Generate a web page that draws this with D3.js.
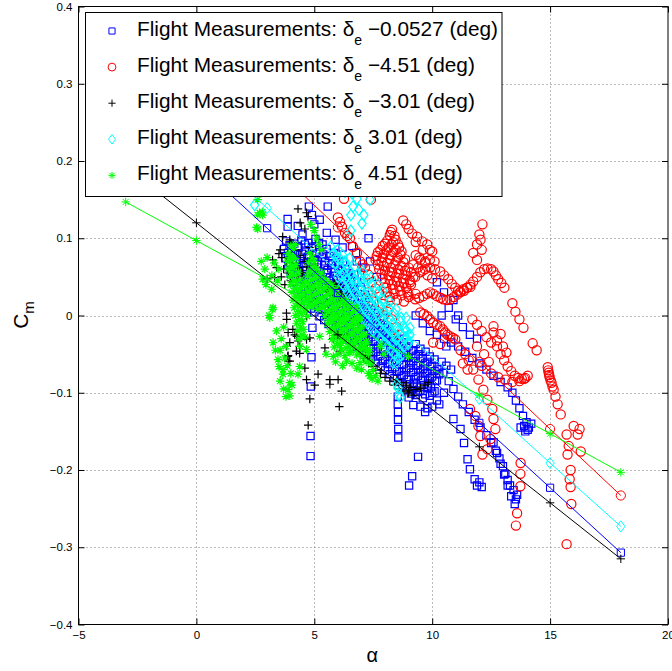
<!DOCTYPE html>
<html>
<head>
<meta charset="utf-8">
<script src="https://cdn.jsdelivr.net/npm/d3@7"></script>
<style>
  html, body { margin: 0; padding: 0; background: #fff; }
  svg { display: block; font-family: "Liberation Sans", Arial, Helvetica, sans-serif; }
</style>
</head>
<body>
<svg id="chart" width="672" height="671"></svg>
<script>
// ---------------- DATA ----------------
const xTicks = [-5, 0, 5, 10, 15, 20];
const yTicks = [-0.4, -0.3, -0.2, -0.1, 0, 0.1, 0.2, 0.3, 0.4];
const legendLabels = ["\u22120.0527", "\u22124.51", "\u22123.01", "3.01", "4.51"];

// fitted model lines (alpha, Cm)
const fitAlpha = [-3, 0, 3, 6, 9, 12, 15, 18];
const fitBlue  = [0.281, 0.197, 0.113, 0.029, -0.055, -0.139, -0.223, -0.307];
const fitRed   = [0.374, 0.287, 0.200, 0.114, 0.027, -0.060, -0.147, -0.233];
const fitBlack = [0.1925, 0.120, 0.0475, -0.025, -0.0975, -0.170, -0.2425, -0.315];
const fitCyan  = [0.304, 0.2215, 0.139, 0.0565, -0.026, -0.108, -0.191, -0.273];
const fitGreen = [0.147, 0.097, 0.047, -0.003, -0.053, -0.103, -0.153, -0.203];

// flight measurements, δe = -0.0527 deg  [alpha, Cm]
const blueDense = [
[3.8,0.096],[4.15,0.093],[4.45,0.097],[4.75,0.094],[5.05,0.099],[5.35,0.092],
[3.72,0.086],[4.02,0.083],[4.33,0.088],[4.62,0.084],[4.93,0.087],[5.22,0.082],[5.52,0.086],[5.83,0.081],
[3.78,0.074],[4.1,0.077],[4.4,0.073],[4.72,0.076],[5.0,0.072],[5.32,0.075],[5.62,0.071],[5.93,0.074],[6.22,0.07],
[3.9,0.064],[4.2,0.067],[4.52,0.063],[4.82,0.066],[5.12,0.062],[5.42,0.065],[5.72,0.061],[6.02,0.064],[6.32,0.06],
[4.0,0.054],[4.3,0.057],[4.62,0.053],[4.92,0.056],[5.22,0.052],[5.52,0.055],[5.82,0.051],[6.12,0.054],[6.42,0.05],[6.7,0.053],
[4.12,0.044],[4.42,0.047],[4.72,0.043],[5.02,0.046],[5.32,0.042],[5.62,0.045],[5.92,0.041],[6.22,0.044],[6.52,0.04],[6.82,0.043],
[4.3,0.034],[4.6,0.037],[4.9,0.033],[5.2,0.036],[5.5,0.032],[5.8,0.035],[6.1,0.031],[6.4,0.034],[6.7,0.03],[7.0,0.033],
[4.5,0.024],[4.8,0.027],[5.1,0.023],[5.4,0.026],[5.7,0.022],[6.0,0.025],[6.3,0.021],[6.6,0.024],[6.9,0.02],[7.2,0.023],
[4.72,0.014],[5.02,0.017],[5.32,0.013],[5.62,0.016],[5.92,0.012],[6.22,0.015],[6.52,0.011],[6.82,0.014],[7.12,0.01],[7.42,0.013],
[5.0,0.004],[5.3,0.007],[5.6,0.003],[5.9,0.006],[6.2,0.002],[6.5,0.005],[6.8,0.001],[7.1,0.004],[7.4,0.0],[7.7,0.003],
[5.42,-0.006],[5.72,-0.003],[6.02,-0.007],[6.32,-0.004],[6.62,-0.008],[6.92,-0.005],[7.22,-0.009],[7.52,-0.006],[7.82,-0.01],
[5.8,-0.016],[6.1,-0.013],[6.4,-0.017],[6.7,-0.014],[7.0,-0.018],[7.3,-0.015],[7.6,-0.019],[7.9,-0.016],[8.2,-0.02],
[6.22,-0.026],[6.52,-0.023],[6.82,-0.027],[7.12,-0.024],[7.42,-0.028],[7.72,-0.025],[8.02,-0.029],[8.32,-0.026],[8.62,-0.03],
[6.6,-0.036],[6.9,-0.033],[7.2,-0.037],[7.5,-0.034],[7.8,-0.038],[8.1,-0.035],[8.4,-0.039],[8.7,-0.036],[9.0,-0.04],[9.3,-0.037],
[7.02,-0.046],[7.32,-0.043],[7.62,-0.047],[7.92,-0.044],[8.22,-0.048],[8.52,-0.045],[8.82,-0.049],[9.12,-0.046],[9.42,-0.05],[9.72,-0.047],
[7.4,-0.056],[7.7,-0.053],[8.0,-0.057],[8.3,-0.054],[8.6,-0.058],[8.9,-0.055],[9.2,-0.059],[9.5,-0.056],[9.8,-0.06],[10.1,-0.057],
[7.82,-0.066],[8.12,-0.063],[8.42,-0.067],[8.72,-0.064],[9.02,-0.068],[9.32,-0.065],[9.62,-0.069],[9.92,-0.066],[10.22,-0.07],
[8.2,-0.076],[8.5,-0.073],[8.8,-0.077],[9.1,-0.074],[9.4,-0.078],[9.7,-0.075],[10.0,-0.079],[10.3,-0.076],
[8.62,-0.086],[8.92,-0.083],[9.22,-0.087],[9.52,-0.084],[9.82,-0.088],[10.12,-0.085],
[8.9,-0.096],[9.2,-0.093],[9.5,-0.097],[9.8,-0.094],[10.1,-0.098],
[9.0,-0.106],[9.3,-0.103],[9.6,-0.107],[9.9,-0.104],[10.2,-0.11],
[9.2,-0.116],[9.5,-0.118],[9.8,-0.12]
];
const blueDense2 = [
[3.95,0.091],[4.3,0.09],[4.6,0.092],[4.9,0.089],[5.2,0.094],
[3.88,0.081],[4.18,0.079],[4.48,0.08],[4.78,0.078],[5.08,0.08],[5.38,0.079],[5.68,0.077],
[3.95,0.069],[4.25,0.071],[4.56,0.068],[4.86,0.07],[5.16,0.067],[5.46,0.07],[5.76,0.066],[6.06,0.069],
[4.05,0.059],[4.36,0.061],[4.66,0.058],[4.96,0.06],[5.26,0.057],[5.56,0.059],[5.86,0.056],[6.16,0.058],[6.46,0.055],
[4.15,0.049],[4.46,0.051],[4.76,0.048],[5.06,0.05],[5.36,0.047],[5.66,0.049],[5.96,0.046],[6.26,0.048],[6.56,0.045],
[4.26,0.039],[4.56,0.041],[4.86,0.038],[5.16,0.04],[5.46,0.037],[5.76,0.039],[6.06,0.036],[6.36,0.038],[6.66,0.035],[6.96,0.037],
[4.45,0.029],[4.75,0.031],[5.05,0.028],[5.35,0.03],[5.65,0.027],[5.95,0.029],[6.25,0.026],[6.55,0.028],[6.85,0.025],[7.15,0.027],
[4.62,0.019],[4.92,0.021],[5.22,0.018],[5.52,0.02],[5.82,0.017],[6.12,0.019],[6.42,0.016],[6.72,0.018],[7.02,0.015],[7.32,0.017],
[4.86,0.009],[5.16,0.011],[5.46,0.008],[5.76,0.01],[6.06,0.007],[6.36,0.009],[6.66,0.006],[6.96,0.008],[7.26,0.005],[7.56,0.007],
[5.22,-0.001],[5.52,0.001],[5.82,-0.002],[6.12,0.0],[6.42,-0.003],[6.72,-0.001],[7.02,-0.004],[7.32,-0.002],[7.62,-0.005],[7.92,-0.003],
[5.6,-0.011],[5.9,-0.009],[6.2,-0.012],[6.5,-0.01],[6.8,-0.013],[7.1,-0.011],[7.4,-0.014],[7.7,-0.012],[8.0,-0.015],
[6.0,-0.021],[6.3,-0.019],[6.6,-0.022],[6.9,-0.02],[7.2,-0.023],[7.5,-0.021],[7.8,-0.024],[8.1,-0.022],[8.4,-0.025],
[6.4,-0.031],[6.7,-0.029],[7.0,-0.032],[7.3,-0.03],[7.6,-0.033],[7.9,-0.031],[8.2,-0.034],[8.5,-0.032],[8.8,-0.035],
[6.8,-0.041],[7.1,-0.039],[7.4,-0.042],[7.7,-0.04],[8.0,-0.043],[8.3,-0.041],[8.6,-0.044],[8.9,-0.042],[9.2,-0.045],[9.5,-0.043],
[7.2,-0.051],[7.5,-0.049],[7.8,-0.052],[8.1,-0.05],[8.4,-0.053],[8.7,-0.051],[9.0,-0.054],[9.3,-0.052],[9.6,-0.055],[9.9,-0.053],
[7.6,-0.061],[7.9,-0.059],[8.2,-0.062],[8.5,-0.06],[8.8,-0.063],[9.1,-0.061],[9.4,-0.064],[9.7,-0.062],[10.0,-0.065],
[8.0,-0.071],[8.3,-0.069],[8.6,-0.072],[8.9,-0.07],[9.2,-0.073],[9.5,-0.071],[9.8,-0.074],[10.1,-0.072],
[8.4,-0.081],[8.7,-0.079],[9.0,-0.082],[9.3,-0.08],[9.6,-0.083],[9.9,-0.081],[10.2,-0.084],
[8.75,-0.091],[9.05,-0.089],[9.35,-0.092],[9.65,-0.09],[9.95,-0.093],
[9.1,-0.101],[9.4,-0.099],[9.7,-0.102],[10.0,-0.1]
];
const blueSparse = [
[3.87,0.125],[3.87,0.115],[4.3,0.116],[4.77,0.141],[5.57,0.141],[5.23,0.124],[5.53,0.107],[6.6,0.09],[6.77,0.081],
[6.8,0.07],[7.36,0.07],[7.66,0.05],[7.3,0.1],[4.9,0.13],[5.0,0.118],[4.5,0.105],[5.9,0.098],[6.2,0.088],[7.0,0.062],
[4.92,-0.016],[4.88,-0.054],[4.85,-0.092],[4.84,-0.156],[4.84,-0.182],
[8.54,-0.105],[8.54,-0.115],[8.55,-0.125],[8.55,-0.135],[8.56,-0.147],[8.56,-0.158],
[9.4,-0.183],[9.15,-0.208],[9.02,-0.22],
[9.9,-0.02],[10.2,-0.025],[10.5,-0.03],[10.8,-0.035],[11.1,-0.04],[11.4,-0.047],[11.7,-0.055],[12.0,-0.062],[12.3,-0.07],
[12.6,-0.078],[12.9,-0.086],[13.2,-0.093],[13.4,-0.1],[13.55,-0.11],[13.7,-0.12],[13.85,-0.13],[14.0,-0.138],[14.1,-0.145],
[13.9,-0.143],[14.2,-0.14],[13.75,-0.145],[14.05,-0.148],[13.95,-0.15],
[10.7,0.01],[11.0,-0.005],[11.3,-0.015],[11.6,-0.025],[11.9,-0.03],[10.2,0.043],[10.5,0.03],[10.9,0.02],[11.1,0.0],
[10.4,0.0],[10.6,-0.04],[9.6,-0.01],[9.3,0.0],
[10.47,-0.074],[10.7,-0.085],[10.9,-0.095],[11.1,-0.105],[11.3,-0.115],[11.55,-0.125],[11.8,-0.135],[12.05,-0.145],
[12.3,-0.155],[12.5,-0.165],[12.7,-0.175],[12.85,-0.185],[13.0,-0.195],[13.1,-0.205],[13.2,-0.213],[13.3,-0.22],
[13.45,-0.226],[13.6,-0.232],
[10.9,-0.134],[11.2,-0.147],[11.35,-0.165],[11.5,-0.186],[11.6,-0.199],[11.8,-0.212],[12.0,-0.216],[11.9,-0.22],[12.1,-0.222],
[12.6,-0.164],[12.75,-0.178],[12.9,-0.192],[13.05,-0.206],[13.2,-0.22],[13.35,-0.234],[13.5,-0.244],[13.55,-0.238],
[10.4,-0.06],[10.6,-0.065],[10.8,-0.07],[10.5,-0.1],[10.3,-0.115],[9.7,-0.125],[10.0,-0.118]
];

// δe = -4.51 deg
const redPts = [
[6.09,0.121],[6.17,0.115],[6.3,0.107],[6.51,0.1],[6.64,0.089],[6.81,0.081],[6.94,0.07],[7.15,0.062],[7.28,0.053],
[7.45,0.043],[6.26,0.151],[7.4,0.15],[6.0,0.127],[6.4,0.103],[7.05,0.066],[7.6,0.035],[7.75,0.028],
[7.9,0.015],[8.1,0.005],[8.3,-0.005],[8.5,-0.015],[8.2,0.02],[8.6,-0.025],[7.95,0.0],[7.3,0.03],[7.5,0.018],
[8.3,0.111],[8.2,0.104],[8.4,0.103],[8.1,0.097],[8.35,0.095],[8.55,0.092],[7.9,0.09],[8.15,0.088],[8.45,0.085],
[8.7,0.083],[7.7,0.082],[7.95,0.08],[8.25,0.078],[8.55,0.075],[8.85,0.073],[7.6,0.072],[7.85,0.07],[8.1,0.068],
[8.4,0.066],[8.7,0.064],[9.0,0.062],[7.75,0.06],[8.0,0.058],[8.3,0.056],[8.6,0.054],[8.9,0.052],[9.2,0.05],
[7.9,0.048],[8.2,0.046],[8.5,0.044],[8.8,0.042],[9.1,0.04],[8.05,0.036],[8.35,0.034],[8.65,0.032],[8.95,0.03],
[9.3,0.028],[8.2,0.024],[8.5,0.02],[8.8,0.018],
[8.25,0.108],[8.45,0.098],[8.0,0.093],[8.28,0.092],[8.6,0.088],[7.8,0.085],[8.05,0.084],[8.35,0.082],[8.65,0.079],
[7.65,0.077],[7.9,0.075],[8.2,0.073],[8.48,0.071],[8.78,0.069],[7.7,0.066],[7.95,0.064],[8.25,0.062],[8.55,0.06],
[8.85,0.058],[9.1,0.056],[7.85,0.054],[8.15,0.052],[8.45,0.05],[8.75,0.048],[9.05,0.046],[8.0,0.042],[8.3,0.04],
[8.6,0.038],[8.9,0.036],[8.1,0.03],[8.4,0.028],[8.7,0.026],[9.0,0.024],
[8.77,0.123],[9.0,0.112],[9.15,0.106],[9.36,0.102],[9.57,0.096],[9.79,0.092],[9.9,0.085],[10.0,0.083],[8.9,0.118],
[9.3,0.095],[9.6,0.085],[9.45,0.075],[9.7,0.07],
[9.3,0.078],[9.5,0.072],[9.7,0.068],[9.9,0.072],[10.1,0.07],[9.4,0.062],[9.6,0.058],[9.8,0.052],[10.0,0.048],[9.2,0.066],
[9.06,0.043],[9.28,0.05],[9.49,0.056],[9.7,0.06],[9.91,0.062],[10.12,0.06],[10.34,0.057],[10.5,0.052],[10.68,0.047],
[10.83,0.041],[10.98,0.036],[11.1,0.032],[11.19,0.03],[11.35,0.032],[11.49,0.036],[11.62,0.04],[11.74,0.044],[11.9,0.05],
[12.04,0.056],[12.2,0.06],[12.34,0.061],[12.5,0.06],[12.6,0.057],[12.7,0.052],[12.8,0.047],[12.93,0.042],[13.06,0.036],
[9.28,0.021],[9.45,0.023],[9.62,0.025],[9.78,0.028],[9.91,0.03],[10.05,0.028],[10.2,0.025],[10.35,0.023],[10.47,0.021],
[10.62,0.02],[10.77,0.021],[10.92,0.024],[11.06,0.027],[11.2,0.031],[11.32,0.034],[11.47,0.036],[11.62,0.037],
[9.49,0.004],[9.65,0.002],[9.79,-0.001],[9.9,-0.005],[10.04,-0.009],[10.2,-0.012],[10.34,-0.014],[10.45,-0.018],
[10.55,-0.022],[10.65,-0.025],[10.77,-0.027],[10.88,-0.029],[10.98,-0.031],
[12.13,0.118],[12.0,0.105],[11.9,0.092],[11.74,0.081],[11.9,0.072],[12.1,0.085],[12.05,0.098],
[13.4,0.016],[13.53,0.005],[13.7,-0.005],[13.87,-0.016],[14.26,-0.036],[14.43,-0.045],
[14.9,-0.067],[14.92,-0.071],[14.94,-0.074],[14.96,-0.077],[14.98,-0.08],[15.02,-0.084],[15.06,-0.087],[15.1,-0.092],
[15.15,-0.096],[15.23,-0.105],[15.32,-0.115],[15.45,-0.128],
[16.0,-0.143],[16.17,-0.154],[15.7,-0.154],[15.79,-0.169],[16.3,-0.176],[15.74,-0.18],[15.87,-0.2],[15.83,-0.212],
[15.87,-0.222],[15.9,-0.244],[15.7,-0.296],[16.25,-0.147],
[11.7,-0.005],[11.9,-0.012],[12.1,-0.02],[12.3,-0.028],[12.5,-0.035],[12.6,-0.014],[12.6,-0.022],[12.75,-0.04],
[12.9,-0.05],[13.05,-0.058],[13.2,-0.066],[13.35,-0.072],[13.5,-0.078],[13.65,-0.081],[13.8,-0.082],[13.95,-0.081],
[12.75,-0.032],[12.9,-0.024],[13.0,-0.04],[13.15,-0.048],
[12.5,-0.075],[12.8,-0.08],[13.1,-0.083],[13.4,-0.086],[13.7,-0.085],[13.9,-0.082],[14.05,-0.078],
[11.74,-0.07],[11.96,-0.083],[12.17,-0.096],[12.34,-0.109],[12.55,-0.121],[12.6,-0.134],[12.68,-0.147],[12.47,-0.16],
[12.34,-0.173],[12.13,-0.18],[11.6,-0.121],[11.83,-0.13],[11.96,-0.143],[12.04,-0.156],[10.04,-0.035],[10.34,-0.037],
[13.74,-0.205],[13.74,-0.221],[13.75,-0.191],[13.6,-0.256],[13.55,-0.272],
[11.2,-0.045],[11.4,-0.05],[11.55,-0.058],[11.3,-0.062],[11.5,-0.07],
[11.9,-0.04],[12.2,-0.05],[12.4,-0.06],[12.1,-0.065]
];

// δe = -3.01 deg
const blackPts = [
[4.31,0.138],[4.67,0.133],[4.73,0.128],[4.4,0.12],[4.6,0.112],
[3.23,0.072],[3.4,0.062],[3.32,0.049],[3.62,0.075],[3.83,0.07],[3.5,0.08],[3.7,0.06],[3.9,0.055],[4.0,0.094],
[4.2,0.085],[4.4,0.078],[4.6,0.07],[4.68,0.063],[4.1,0.068],[4.3,0.062],[3.6,0.05],[3.75,0.04],[4.0,0.045],
[4.25,0.05],[4.5,0.055],[4.8,0.088],[4.9,0.075],[5.0,0.065],[3.55,0.085],[3.66,0.102],[3.96,0.098],
[5.5,0.043],[5.7,0.04],[5.9,0.035],[6.1,0.03],[6.3,0.028],[5.6,0.03],[5.8,0.026],[6.0,0.022],[6.4,0.025],
[5.55,0.036],[5.75,0.033],[5.95,0.03],[6.15,0.036],[6.25,0.022],[5.85,0.042],[6.05,0.04],
[3.82,0.003],[4.67,-0.001],[3.89,-0.022],[4.17,-0.025],[4.31,-0.033],[3.96,-0.035],[4.24,-0.046],[4.38,-0.049],
[3.89,-0.052],[3.89,-0.059],[4.81,-0.029],[4.67,-0.031],[4.6,-0.068],[5.16,-0.076],[4.67,-0.083],[5.02,-0.09],
[5.66,-0.083],[6.01,-0.083],[5.66,-0.089],[6.16,-0.098],[4.81,-0.108],[6.06,-0.118],[4.74,-0.142],[5.45,-0.042],
[6.09,-0.046],[6.38,-0.027],
[3.83,-0.005],[4.09,-0.018],[4.26,-0.027],[4.38,-0.04],[3.83,-0.04],[3.87,-0.053],[3.96,-0.059],
[6.4,-0.025],[6.7,-0.035],[7.0,-0.045],[7.3,-0.052],[6.9,-0.044],[7.1,-0.055],[7.3,-0.062],[7.5,-0.066],[7.6,-0.07],
[7.8,-0.075],[8.0,-0.08],[8.5,-0.083],[8.7,-0.087],[8.9,-0.09],[9.1,-0.093],[9.3,-0.096],[9.5,-0.094],[9.7,-0.09],
[9.83,-0.087],[8.8,-0.098],[9.0,-0.1],[9.2,-0.103],[8.6,-0.095],[8.2,-0.085],[8.4,-0.09],
[5.6,0.005],[5.9,-0.01],[6.2,-0.02],[5.8,-0.03]
];

// δe = 3.01 deg
const cyanPts = [
[6.55,0.13],[6.89,0.137],[7.02,0.119],[6.55,0.11],[6.81,0.151],[6.64,0.141],[7.36,0.15],[2.47,0.143],[7.1,0.13],
[6.3,0.16],[6.6,0.158],
[5.8,0.08],[6.0,0.085],[6.2,0.078],[5.9,0.068],[6.1,0.062],[6.3,0.07],[6.5,0.074],[6.0,0.05],[6.25,0.055],[6.45,0.06],
[6.7,0.063],[6.2,0.04],[6.4,0.045],[6.6,0.05],[6.85,0.053],[7.05,0.057],[6.4,0.03],[6.6,0.034],[6.8,0.04],[7.0,0.044],
[7.25,0.047],[6.6,0.02],[6.85,0.024],[7.05,0.03],[7.25,0.034],[7.45,0.04],[6.8,0.01],[7.05,0.014],[7.25,0.02],
[7.5,0.024],[7.7,0.03],[7.0,0.0],[7.25,0.004],[7.5,0.01],[7.7,0.016],[7.9,0.02],[7.25,-0.01],[7.5,-0.006],[7.7,0.0],
[7.95,0.006],[8.15,0.01],[7.5,-0.02],[7.75,-0.016],[7.95,-0.01],[8.2,-0.004],[8.4,0.002],[7.8,-0.03],[8.0,-0.026],
[8.25,-0.02],[8.45,-0.014],[8.65,-0.008],[8.1,-0.04],[8.3,-0.036],[8.5,-0.03],[8.7,-0.024],[8.9,-0.02],[8.4,-0.05],
[8.6,-0.046],[8.8,-0.04],[9.0,-0.034],
[5.9,0.078],[6.1,0.073],[6.35,0.065],[6.15,0.052],[6.35,0.05],[6.55,0.056],[6.3,0.037],[6.5,0.04],[6.75,0.046],
[6.95,0.05],[6.5,0.025],[6.72,0.029],[6.95,0.035],[7.15,0.04],[6.7,0.015],[6.95,0.02],[7.15,0.025],[7.38,0.03],
[6.9,0.005],[7.15,0.009],[7.38,0.015],[7.6,0.02],[7.15,-0.005],[7.4,0.0],[7.6,0.005],[7.82,0.012],[7.38,-0.015],
[7.62,-0.01],[7.85,-0.005],[8.05,0.0],[7.65,-0.025],[7.9,-0.02],[8.1,-0.015],[8.32,-0.01],[7.95,-0.035],[8.2,-0.03],
[8.4,-0.025],[8.6,-0.018],[8.25,-0.045],[8.5,-0.04],[8.7,-0.035],[8.9,-0.028],[8.55,-0.055],[8.75,-0.05],
[7.4,0.049],[7.7,0.04],[7.91,0.032],[8.2,0.018],[8.47,0.008],[8.68,-0.003],[8.85,-0.017],[9.06,-0.025],[8.98,-0.037],
[8.68,-0.052],[8.47,-0.062],[8.55,-0.094],[8.64,-0.106],[8.5,-0.089],[8.34,-0.061],[8.6,-0.102],
[8.19,-0.016],[8.47,-0.032],[9.06,-0.016],[8.89,-0.003],[5.7,0.089],[5.95,0.075]
];

// δe = 4.51 deg
const greenPts = [
[2.8,0.134],[2.6,0.112],[2.6,0.15],[2.6,0.13],[2.81,0.13],[2.55,0.114],[2.68,0.133],
[2.81,0.047],[3.19,0.034],[3.23,0.008],[3.11,-0.003],[3.25,0.01],[3.08,0.0],[2.75,0.07],[2.9,0.06],[3.0,0.075],
[3.3,0.068],[3.5,0.06],[3.2,0.052],[3.45,0.045],[2.95,0.04],
[3.25,-0.035],[3.46,-0.057],[3.5,-0.066],[3.67,-0.076],[3.96,-0.087],[3.89,-0.096],[3.96,-0.104],[3.67,-0.07],
[4.38,-0.066],[4.31,-0.076],[4.67,-0.044],[5.23,-0.027],[5.81,-0.053],[6.37,-0.059],[6.51,-0.048],[6.94,-0.061],
[7.36,-0.078],[3.4,-0.02],[3.55,-0.045],[3.75,-0.055],[3.85,-0.065],[4.0,-0.075],[4.05,-0.09],
[3.55,-0.085],[3.7,-0.095],[3.8,-0.105],[3.6,-0.03],[3.7,-0.015],[3.35,-0.045],[3.8,-0.04],
[5.5,-0.05],[5.9,-0.06],[6.2,-0.065],[6.6,-0.062],[7.0,-0.07],[7.3,-0.075],[6.8,-0.068],
[4.0,0.09],[4.2,0.092],
[3.9,0.08],[4.1,0.078],[4.8,0.081],
[3.85,0.07],[4.05,0.072],[4.75,0.068],[5.0,0.07],
[3.9,0.06],[4.1,0.062],[4.85,0.058],[5.1,0.06],
[3.95,0.05],[4.2,0.052],[4.7,0.051],[4.95,0.048],[5.2,0.05],[5.45,0.047],
[4.0,0.04],[4.25,0.042],[4.5,0.039],[4.75,0.041],[5.0,0.038],[5.25,0.04],[5.5,0.037],[5.75,0.039],
[4.05,0.03],[4.3,0.032],[4.55,0.029],[4.8,0.031],[5.05,0.028],[5.3,0.03],[5.55,0.027],[5.8,0.029],[6.05,0.026],
[4.1,0.02],[4.35,0.022],[4.6,0.019],[4.85,0.021],[5.1,0.018],[5.35,0.02],[5.6,0.017],[5.85,0.019],[6.1,0.016],[6.35,0.018],
[4.15,0.01],[4.4,0.012],[4.65,0.009],[4.9,0.011],[5.15,0.008],[5.4,0.01],[5.65,0.007],[5.9,0.009],[6.15,0.006],[6.4,0.008],[6.65,0.005],
[4.2,0.0],[4.45,0.002],[4.7,-0.001],[5.45,0.0],[5.7,-0.003],[5.95,-0.001],[6.2,-0.004],[6.45,-0.002],[6.7,-0.005],[6.95,-0.003],
[4.25,-0.01],[4.5,-0.008],[5.55,-0.011],[5.75,-0.009],[6.0,-0.012],[6.25,-0.01],[6.5,-0.013],[6.75,-0.011],[7.0,-0.014],
[4.3,-0.02],[4.55,-0.018],[5.65,-0.021],[5.85,-0.019],[6.1,-0.022],[6.35,-0.02],[6.6,-0.023],[6.85,-0.021],[7.1,-0.024],
[4.35,-0.03],[4.6,-0.028],[5.75,-0.031],[5.95,-0.029],[6.2,-0.032],[6.45,-0.03],[6.7,-0.033],[6.95,-0.031],[7.2,-0.034],
[4.4,-0.04],[5.85,-0.041],[6.1,-0.039],[6.35,-0.042],[6.6,-0.04],[6.85,-0.043],[7.1,-0.041],[7.35,-0.044],
[6.0,-0.05],[6.3,-0.052],[6.8,-0.051],[7.05,-0.053],[7.3,-0.05],[7.2,-0.06],[7.4,-0.062],
[7.4,-0.06],[7.5,-0.07],[7.6,-0.078],[7.7,-0.085],[7.45,-0.082],[7.8,-0.04],[7.95,-0.05],
[4.85,0.118],[5.0,0.11],[5.1,0.1],[5.2,0.092],[5.3,0.085],
[4.1,0.086],
[3.95,0.075],[4.2,0.074],[4.9,0.075],
[4.0,0.065],[4.22,0.066],[4.98,0.063],
[4.05,0.055],[4.32,0.056],[4.82,0.056],[5.08,0.053],[5.32,0.055],
[4.12,0.045],[4.38,0.046],[4.62,0.044],[4.88,0.046],[5.12,0.043],[5.38,0.045],[5.62,0.042],
[4.18,0.035],[4.42,0.036],[4.68,0.034],[4.92,0.036],[5.18,0.033],[5.42,0.035],[5.68,0.032],[5.92,0.034],
[4.22,0.025],[4.48,0.026],[4.72,0.024],[4.98,0.026],[5.22,0.023],[5.48,0.025],[5.72,0.022],[5.98,0.024],[6.22,0.021],
[4.28,0.015],[4.52,0.016],[4.78,0.014],[5.02,0.016],[5.28,0.013],[5.52,0.015],[5.78,0.012],[6.02,0.014],[6.28,0.011],[6.52,0.013],[6.78,0.01],
[4.32,0.005],[4.58,0.006],[5.58,0.005],[5.82,0.003],[6.08,0.004],[6.32,0.002],[6.58,0.003],[6.82,0.0],
[4.38,-0.005],[5.62,-0.006],[5.88,-0.004],[6.12,-0.007],[6.38,-0.005],[6.62,-0.008],[6.88,-0.006],
[4.42,-0.015],[5.72,-0.016],[5.98,-0.014],[6.22,-0.017],[6.48,-0.015],[6.72,-0.018],[6.98,-0.016],
[4.48,-0.025],[5.82,-0.026],[6.08,-0.024],[6.32,-0.027],[6.58,-0.025],[6.82,-0.028],[7.08,-0.026],
[5.98,-0.036],[6.22,-0.034],[6.48,-0.037],[6.72,-0.035],[6.98,-0.038],[7.22,-0.036],
[6.15,-0.045],[6.55,-0.046],[6.95,-0.047],[7.2,-0.045]
];

// ---------------- CHART ----------------
const svg = d3.select("#chart");
const pL = 78.5, pR = 668, pT = 6.5, pB = 624.5;
const x = d3.scaleLinear().domain([-5, 20]).range([pL, pR]);
const y = d3.scaleLinear().domain([-0.4, 0.4]).range([pB, pT]);
const fmt = v => (Math.abs(v) < 1e-9 ? "0" : String(+v.toFixed(2))).replace("-", "\u2212");

// grid
const grid = svg.append("g").attr("stroke", "#777").attr("stroke-width", 1).attr("stroke-dasharray", "1,3");
grid.selectAll("line.gx").data(xTicks.slice(1, -1)).join("line").attr("class", "gx")
  .attr("x1", d => Math.round(x(d)) + 0.5).attr("x2", d => Math.round(x(d)) + 0.5)
  .attr("y1", pT).attr("y2", pB);
grid.selectAll("line.gy").data(yTicks.slice(1, -1)).join("line").attr("class", "gy")
  .attr("y1", d => Math.round(y(d)) + 0.5).attr("y2", d => Math.round(y(d)) + 0.5)
  .attr("x1", pL).attr("x2", pR);

// clip
svg.append("clipPath").attr("id", "clip").append("rect")
  .attr("x", pL).attr("y", pT).attr("width", pR - pL).attr("height", pB - pT);

// marker shapes
const shapes = {
  square:   s => `M${-s},${-s}H${s}V${s}H${-s}Z`,
  circle:   s => `M${s},0A${s},${s} 0 1,1 ${-s},0A${s},${s} 0 1,1 ${s},0Z`,
  plus:     s => `M${-s},0H${s}M0,${-s}V${s}`,
  diamond:  s => `M0,${-s}L${s * 0.75},0L0,${s}L${-s * 0.75},0Z`,
  asterisk: s => { const k = s * 0.72; return `M${-s},0H${s}M0,${-s}V${s}M${-k},${-k}L${k},${k}M${-k},${k}L${k},${-k}`; }
};
const series = [
  { pts: blueDense.concat(blueDense2, blueSparse), fit: fitBlue, color: "#0000ff", shape: "square", size: 3.6 },
  { pts: redPts,   fit: fitRed,   color: "#ff0000", shape: "circle",   size: 4.6 },
  { pts: blackPts, fit: fitBlack, color: "#000000", shape: "plus",     size: 4.2 },
  { pts: cyanPts,  fit: fitCyan,  color: "#00ffff", shape: "diamond",  size: 5.6 },
  { pts: greenPts, fit: fitGreen, color: "#00ff00", shape: "asterisk", size: 4.2 }
];

const plot = svg.append("g").attr("clip-path", "url(#clip)");
series.forEach(s => {
  plot.append("g").attr("fill", "none").attr("stroke", s.color).attr("stroke-width", 1.2)
    .selectAll("path").data(s.pts).join("path")
    .attr("transform", d => `translate(${x(d[0])},${y(d[1])})`)
    .attr("d", shapes[s.shape](s.size));
});
const line = d3.line().x(d => x(d[0])).y(d => y(d[1]));
series.forEach(s => {
  const pts = fitAlpha.map((a, i) => [a, s.fit[i]]);
  const g = plot.append("g").attr("fill", "none").attr("stroke", s.color).attr("stroke-width", 1);
  g.append("path").attr("d", line(pts));
  g.selectAll("path.m").data(pts).join("path").attr("class", "m")
    .attr("transform", d => `translate(${x(d[0])},${y(d[1])})`)
    .attr("d", shapes[s.shape](s.size));
});

// axes (MATLAB style, inward ticks on all sides)
const tl = 6;
const ax = svg.append("g");
ax.append("g").attr("transform", `translate(0,${pB})`)
  .call(d3.axisBottom(x).tickValues(xTicks).tickSize(-tl).tickPadding(6).tickFormat(fmt));
ax.append("g").attr("transform", `translate(0,${pT})`)
  .call(d3.axisTop(x).tickValues(xTicks).tickSize(-tl).tickFormat(""));
ax.append("g").attr("transform", `translate(${pL},0)`)
  .call(d3.axisLeft(y).tickValues(yTicks).tickSize(-tl).tickPadding(6).tickFormat(fmt));
ax.append("g").attr("transform", `translate(${pR},0)`)
  .call(d3.axisRight(y).tickValues(yTicks).tickSize(-tl).tickFormat(""));
ax.selectAll(".domain").remove();
ax.selectAll("text").attr("fill", "#000").attr("font-size", "11.5px")
  .attr("font-family", "Liberation Sans, Arial, sans-serif");
ax.selectAll("line").attr("stroke", "#000");
svg.append("rect").attr("x", pL).attr("y", pT).attr("width", pR - pL).attr("height", pB - pT)
  .attr("fill", "none").attr("stroke", "#000").attr("stroke-width", 1);

// axis labels
svg.append("text").attr("x", (pL + pR) / 2 - 1).attr("y", 662).attr("text-anchor", "middle")
  .attr("font-size", "20px").text("\u03b1");
const yl = svg.append("text").attr("transform", "translate(28,315) rotate(-90)")
  .attr("text-anchor", "middle").attr("font-size", "21px");
yl.append("tspan").text("C");
yl.append("tspan").attr("dy", 6).attr("font-size", "15px").text("m");

// legend
const lg = svg.append("g");
lg.append("rect").attr("x", 85.5).attr("y", 12.5).attr("width", 416.5).attr("height", 184)
  .attr("fill", "#fff").attr("stroke", "#000").attr("stroke-width", 1);
series.forEach((s, i) => {
  const by = 36 + i * 36.1;
  lg.append("path").attr("transform", `translate(112,${by - 5})`)
    .attr("d", shapes[s.shape](s.size * 0.85)).attr("fill", "none").attr("stroke", s.color);
  const t = lg.append("text").attr("x", 137).attr("y", by).attr("font-size", "20.8px").attr("fill", "#000");
  t.append("tspan").text("Flight Measurements: \u03b4");
  t.append("tspan").attr("dy", 9).attr("font-size", "14px").text("e");
  t.append("tspan").attr("dy", -9).text(" " + legendLabels[i] + " (deg)");
});
</script>
</body>
</html>
